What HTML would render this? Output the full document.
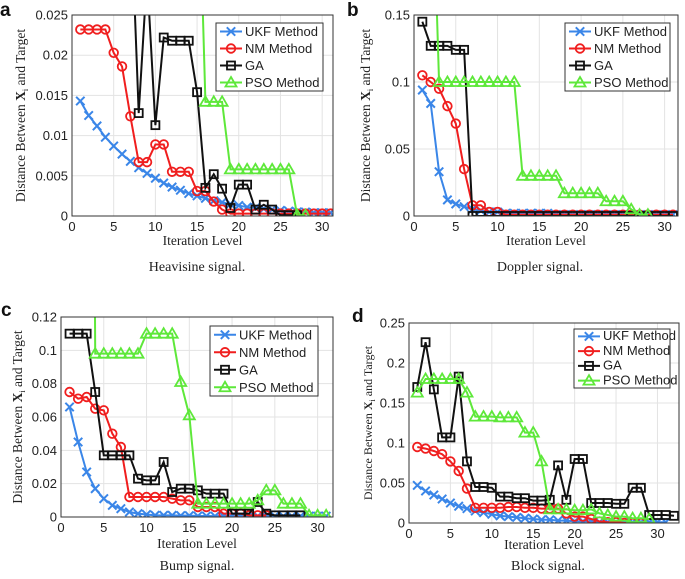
<!DOCTYPE html>
<html><head><meta charset="utf-8"><style>
body{margin:0;background:#fff;width:685px;height:579px;overflow:hidden}
svg{display:block}
.tk{font-family:"Liberation Sans",sans-serif;font-size:13px;fill:#222}
.sr{font-family:"Liberation Serif",serif;fill:#222}
</style></head><body>
<svg id="c" width="685" height="579"></svg>
<script>
const xs = Array.from({length:32},(_,i)=>i+1);
const aUKF=[0.0143,0.0125,0.0112,0.0098,0.0087,0.0077,0.0068,0.0060,0.0053,0.0047,0.0041,0.0036,0.0032,0.0028,0.0025,0.0022,0.0019,0.0017,0.0015,0.0013,0.0011,0.0010,0.0009,0.0008,0.0007,0.0006,0.0005,0.0005,0.0004,0.0004,0.0004];
const aNM=[0.0232,0.0232,0.0232,0.0232,0.0203,0.0186,0.0124,0.0067,0.0067,0.0089,0.0089,0.0055,0.0055,0.0055,0.0031,0.0031,0.0018,0.0008,0.0003,0.0003,0.0003,0.0003,0.0003,0.0003,0.0003,0.0003,0.0003,0.0003,0.0003,0.0003,0.0003];
const aGA=[0.04,0.04,0.04,0.04,0.04,0.04,0.04,0.0128,0.03,0.0113,0.0222,0.0218,0.0218,0.0218,0.0154,0.0035,0.0052,0.0034,0.001,0.0039,0.0039,0.0008,0.0014,0.0008,0.0001,0.0001,0.0001];
const aPSO=[0.05,0.05,0.05,0.05,0.05,0.05,0.05,0.05,0.05,0.05,0.05,0.05,0.05,0.05,0.05,0.0142,0.0142,0.0142,0.0058,0.0058,0.0058,0.0058,0.0058,0.0058,0.0058,0.0058,0.0001,0.0001];
const bUKF=[0.094,0.084,0.033,0.012,0.009,0.007,0.005,0.004,0.003,0.003,0.002,0.002,0.002,0.002,0.002,0.002,0.001,0.001,0.001,0.001,0.001,0.001,0.001,0.001,0.001,0.001,0.001,0.001,0.001,0.001,0.001];
const bNM=[0.105,0.1,0.095,0.082,0.069,0.035,0.008,0.008,0.003,0.003,0.001,0.001,0.001,0.001,0.001,0.001,0.001,0.001,0.001,0.001,0.001,0.001,0.001,0.001,0.001,0.001,0.001,0.001,0.001,0.001,0.001];
const bGA=[0.145,0.127,0.127,0.127,0.124,0.124,0,0,0,0,0,0,0,0,0,0,0,0,0,0,0,0,0,0,0,0,0,0,0,0,0];
const bPSO=[0.3,0.3,0.1,0.1,0.1,0.1,0.1,0.1,0.1,0.1,0.1,0.1,0.03,0.03,0.03,0.03,0.03,0.017,0.017,0.017,0.017,0.017,0.011,0.011,0.011,0.005,0.001,0.001];
const cUKF=[0.066,0.045,0.027,0.017,0.011,0.007,0.005,0.003,0.002,0.0015,0.001,0.001,0.001,0.0008,0.0008,0.0006,0.0006,0.0005,0.0005,0.0005,0.0005,0.0005,0.0005,0.0005,0.0005,0.0005,0.0005,0.0005,0.0005,0.0005,0.0005];
const cNM=[0.075,0.071,0.072,0.065,0.064,0.05,0.042,0.012,0.012,0.012,0.012,0.012,0.011,0.01,0.01,0.006,0.006,0.006,0.002,0.002,0.002,0.001,0.001,0.001];
const cGA=[0.11,0.11,0.11,0.075,0.037,0.037,0.037,0.037,0.023,0.022,0.022,0.033,0.015,0.017,0.017,0.016,0.014,0.014,0.014,0.002,0.002,0.002,0.009,0.002,0.001,0.001,0.001,0.001];
const cPSO=[1,1,1,0.098,0.098,0.098,0.098,0.098,0.098,0.11,0.11,0.11,0.11,0.081,0.061,0.008,0.008,0.008,0.008,0.008,0.008,0.008,0.01,0.016,0.016,0.008,0.008,0.008,0.001,0.001,0.001];
const dUKF=[0.047,0.04,0.035,0.03,0.025,0.021,0.018,0.015,0.013,0.011,0.009,0.008,0.007,0.006,0.005,0.004,0.004,0.003,0.003,0.002,0.002,0.002,0.001,0.001,0.001,0.001,0.001,0.001,0.001,0.001,0.001];
const dNM=[0.095,0.093,0.09,0.086,0.077,0.065,0.043,0.019,0.019,0.019,0.019,0.02,0.02,0.019,0.019,0.018,0.018,0.018,0.012,0.008,0.008,0.005,0.002,0.001,0.001,0,0,0];
const dGA=[0.17,0.226,0.167,0.107,0.107,0.183,0.077,0.045,0.045,0.044,0.033,0.033,0.031,0.031,0.028,0.028,0.029,0.072,0.029,0.08,0.08,0.025,0.025,0.025,0.024,0.024,0.044,0.044,0.01,0.01,0.01,0.009];
const dPSO=[0.163,0.18,0.18,0.18,0.18,0.18,0.163,0.133,0.133,0.133,0.132,0.132,0.132,0.113,0.113,0.077,0.017,0.017,0.017,0.016,0.016,0.017,0.012,0.01,0.008,0.008,0.006,0.006,0.005];
const aTicks=["0","0.005","0.01","0.015","0.02","0.025"];
const bTicks=["0","0.05","0.1","0.15"];
const cTicks=["0","0.02","0.04","0.06","0.08","0.1","0.12"];
const dTicks=["0","0.05","0.1","0.15","0.2","0.25"];
const xTicks=[0,5,10,15,20,25,30];
const legendNames=["UKF Method","NM Method","GA","PSO Method"];
const colors=["#3a86e8","#f01e1e","#111","#5ee83a"];
const markers=["x","o","s","t"];

const NS="http://www.w3.org/2000/svg";
const svg=document.getElementById('c');
function mk(t,at,p){const e=document.createElementNS(NS,t);for(const k in at)e.setAttribute(k,at[k]);(p||svg).appendChild(e);return e;}

const panels=[
 {id:'a',L:72,R:333,T:15,B:216,ymax:0.025,ticks:aTicks,xmax:31.3,series:[aUKF,aNM,aGA,aPSO],leg:[216,23,107,68],lfs:13,cap:"Heavisine signal.",cx:197,cy:271,lab:[0,16],ytc:25,xl:245},
 {id:'b',L:414,R:678,T:15,B:216,ymax:0.15,ticks:bTicks,xmax:31.6,series:[bUKF,bNM,bGA,bPSO],leg:[565,23,105,68],lfs:13,cap:"Doppler signal.",cx:540,cy:271,lab:[347,16],ytc:370,xl:245},
 {id:'c',L:61,R:333,T:317,B:517,ymax:0.12,ticks:cTicks,xmax:31.8,series:[cUKF,cNM,cGA,cPSO],leg:[210,326,108,70],lfs:13,cap:"Bump signal.",cx:197,cy:570,lab:[1,316],ytc:22,xl:548},
 {id:'d',L:409,R:679,T:323,B:523,ymax:0.25,ticks:dTicks,xmax:32.6,series:[dUKF,dNM,dGA,dPSO],leg:[574,329,96,59],lfs:10.5,cap:"Block signal.",cx:548,cy:570,lab:[352,322],ytc:372,xl:549}
];

function marker(g,t,x,y,c){
 const s=4.2;
 if(t==='x'){mk('path',{d:`M${x-s} ${y-s}L${x+s} ${y+s}M${x-s} ${y+s}L${x+s} ${y-s}`,stroke:c,'stroke-width':2,fill:'none'},g);}
 else if(t==='o'){mk('circle',{cx:x,cy:y,r:4.3,stroke:c,'stroke-width':1.8,fill:'none'},g);}
 else if(t==='s'){mk('rect',{x:x-4,y:y-4,width:8,height:8,stroke:c,'stroke-width':1.8,fill:'none'},g);}
 else {mk('path',{d:`M${x} ${y-5.5}L${x+5.5} ${y+4}L${x-5.5} ${y+4}Z`,stroke:c,'stroke-width':1.8,fill:'none'},g);}
}

panels.forEach(p=>{
 const g=mk('g',{});
 
 
 const sx=v=>p.L+(v/p.xmax)*(p.R-p.L);
 const sy=v=>p.B-(v/p.ymax)*(p.B-p.T);
 const nT=p.ticks.length-1;
 xTicks.forEach(t=>{mk('line',{x1:sx(t),x2:sx(t),y1:p.T,y2:p.B,stroke:'#e3e3e3','stroke-width':1},g);});
 p.ticks.forEach((t,i)=>{const y=sy(p.ymax*i/nT);mk('line',{x1:p.L,x2:p.R,y1:y,y2:y,stroke:'#e3e3e3','stroke-width':1},g);});
 const cp=mk('clipPath',{id:'clip'+p.id},g);mk('rect',{x:p.L,y:p.T,width:p.R-p.L,height:p.B-p.T},cp);
 const sg=mk('g',{'clip-path':`url(#clip${p.id})`},g);
 p.series.forEach((arr,si)=>{
  const s=mk('g',{},sg);
  
  
  const pts=arr.map((v,i)=>sx(xs[i])+','+sy(v)).join(' ');
  mk('polyline',{points:pts,fill:'none',stroke:colors[si],'stroke-width':2},s);
  arr.forEach((v,i)=>marker(s,markers[si],sx(xs[i]),sy(v),colors[si]));
 });
 mk('rect',{x:p.L,y:p.T,width:p.R-p.L,height:p.B-p.T,fill:'none',stroke:'#333','stroke-width':1},g);
 xTicks.forEach(t=>{
  const tx=mk('text',{x:sx(t),y:p.B+15,'text-anchor':'middle',class:'tk'},g);tx.textContent=t;
  
  
 });
 p.ticks.forEach((t,i)=>{
  const tx=mk('text',{x:p.L-4,y:sy(p.ymax*i/nT)+4.5,'text-anchor':'end',class:'tk'},g);tx.textContent=t;
  
  
 });
 const xl=mk('text',{x:(p.L+p.R)/2,y:p.xl,'text-anchor':'middle',class:'sr','font-size':13.5},g);xl.textContent="Iteration Level";
 
 
 const yc=(p.T+p.B)/2;
 const yl=mk('text',{x:0,y:0,transform:`translate(${p.ytc},${yc}) rotate(-90)`,'text-anchor':'middle',class:'sr','font-size':p.id==='d'?12:13.5},g);
 yl.innerHTML='Distance Between <tspan font-weight="bold">X</tspan><tspan font-size="8" dy="3">i</tspan><tspan dy="-3"> and Target</tspan>';
 
 
 const cap=mk('text',{x:p.cx,y:p.cy,'text-anchor':'middle',class:'sr','font-size':14},g);cap.textContent=p.cap;
 
 
 const lab=mk('text',{x:p.lab[0],y:p.lab[1],'font-family':'Liberation Sans,sans-serif','font-weight':'bold','font-size':19,fill:'#111'},g);lab.textContent=p.id;
 
 
 const [lx,ly,lw,lh]=p.leg;
 const lg=mk('g',{},g);
 
 
 mk('rect',{x:lx,y:ly,width:lw,height:lh,fill:'#fff',stroke:'#333','stroke-width':1},lg);
 const rh=lh/4;
 legendNames.forEach((n,i)=>{
  const cy=ly+rh*(i+0.5);
  const e=mk('g',{},lg);
  
  
  mk('line',{x1:lx+4,x2:lx+26,y1:cy,y2:cy,stroke:colors[i],'stroke-width':2},e);
  marker(e,markers[i],lx+15,cy,colors[i]);
  const t=mk('text',{x:lx+29,y:cy+p.lfs*0.36,class:'tk','font-size':p.lfs},e);t.textContent=n;
 });
});
</script>
</body></html>
